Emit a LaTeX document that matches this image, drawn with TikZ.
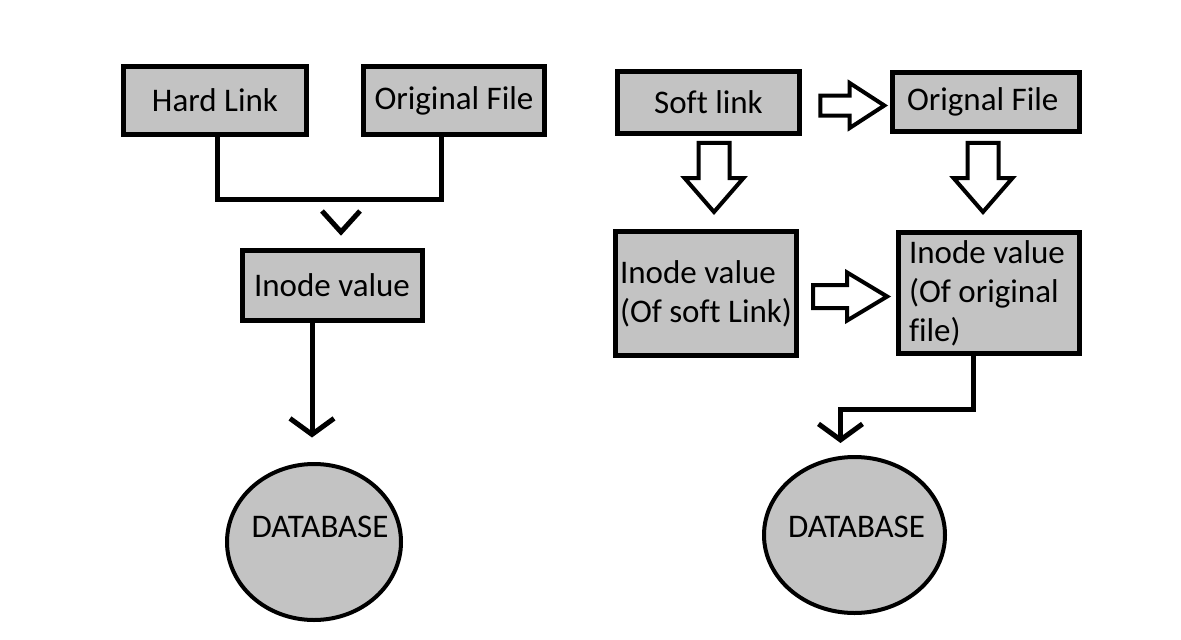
\documentclass[tikz,border=0pt]{standalone}
\usepackage{fontspec}
\setmainfont{Carlito}[Ligatures=NoCommon]
\usetikzlibrary{shapes.geometric,shapes.arrows,arrows.meta}
\definecolor{boxgray}{RGB}{195,195,195}

\begin{document}
\begin{tikzpicture}[x=1pt,y=-1pt,
  font=\fontsize{33}{39}\selectfont,
  box/.style={draw, line width=5pt, fill=boxgray, inner sep=0pt},
  db/.style={draw, ellipse, line width=4pt, fill=boxgray, inner sep=0pt},
  wire/.style={draw, line width=5pt},
  barb/.style={-{Straight Barb[length=16pt,width=44pt]}},
  fat/.style={single arrow, draw, line width=4pt, fill=white, inner sep=0pt, text depth=0pt, anchor=tip}]
\useasboundingbox (0,0) rectangle (1181,640);
% hard link side
\node [box, minimum width=183pt, minimum height=68pt] (hard) at (215,100.5) {Hard Link};
\node [box, minimum width=181pt, minimum height=68pt] (orig) at (454,100.5) {Original File};
\node [box, minimum width=180pt, minimum height=70pt] (inodeL) at (332,285) {Inode value};
\node [db, minimum width=174pt, minimum height=156pt, label={[xshift=6pt,yshift=15pt]center:DATABASE}] (dbL) at (314,542) {};
\path [wire] ([xshift=2pt]hard.south) -- ++(0,62) -| ([xshift=-13pt]orig.south);
\coordinate (vtip) at (341,232);
\path [wire] ([shift={(-19,-21)}]vtip) -- (vtip) -- ([shift={(19,-21)}]vtip);
\path [wire, barb] ([xshift=-20pt]inodeL.south) -- ++(0,115);
% soft link side
\node [box, minimum width=182pt, minimum height=62pt] (soft) at (708.5,102.5) {Soft link};
\node [box, minimum width=187pt, minimum height=59pt, text width=158pt, align=flush left] (origR) at (986,102) {Orignal File};
\node [box, minimum width=181pt, minimum height=124pt, text width=172pt, align=flush left] (inodeS) at (706,293.5) {Inode value\\(Of soft Link)};
\node [box, minimum width=181pt, minimum height=121pt, text width=160pt, align=flush left] (inodeO) at (989,293) {Inode value\\(Of original\\file)};
\node [db, minimum width=181pt, minimum height=156pt, label={[xshift=2pt,yshift=8pt]center:DATABASE}] (dbR) at (854.5,535) {};
\node [fat, minimum height=64pt, text height=16pt, single arrow head extend=12.5pt, single arrow tip angle=66] (softToOrig) at ([xshift=-2pt,yshift=-3.5pt]origR.west) {};
\node [fat, rotate=-90, minimum height=69pt, text height=27pt, single arrow head extend=14pt, single arrow tip angle=82] (softDown) at ([xshift=8pt,yshift=14pt]inodeS.north) {};
\node [fat, rotate=-90, minimum height=69pt, text height=27pt, single arrow head extend=14pt, single arrow tip angle=82] (origDown) at ([xshift=-6pt,yshift=15pt]inodeO.north) {};
\node [fat, minimum height=74pt, text height=19pt, single arrow head extend=12.5pt, single arrow tip angle=62] (inodeToInode) at ([xshift=-5pt,yshift=-3.5pt]inodeO.west) {};
\path [wire, barb] ([xshift=-16pt]inodeO.south) -- ++(0,53) -| ([xshift=-14pt,yshift=12pt]dbR.north);
\end{tikzpicture}
\end{document}
